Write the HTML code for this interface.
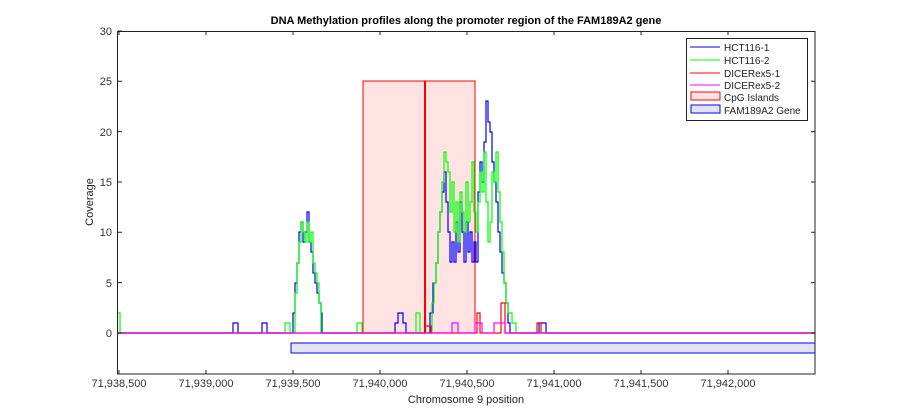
<!DOCTYPE html>
<html><head><meta charset="utf-8"><style>
body{margin:0;background:#fff;}
svg{display:block;font-family:"Liberation Sans",sans-serif;}
</style></head><body>
<svg width="900" height="420" xmlns="http://www.w3.org/2000/svg">
<rect width="900" height="420" fill="#fff"/>
<text x="466" y="24" font-size="11" font-weight="bold" text-anchor="middle">DNA Methylation profiles along the promoter region of the FAM189A2 gene</text>
<rect x="363" y="81" width="112" height="252" fill="#ffe3e3" stroke="#f00" stroke-width="1"/>
<g fill="none" stroke-width="1.2">
<path stroke="#00f" d="M118 333 H233 V323 H238 V333 H262 V323 H267 V333 H293 V313 H295 V283 H297 V263 H299 V232 H301 V222 H303 V242 H305 V232 H307 V212 H309 V242 H311 V252 H313 V273 H315 V283 H317 V293 H319 V303 H321 V313 H322 V333 H395 V323 H398 V313 H403 V323 H406 V333 H430 V313 H433 V283 H436 V263 H438 V232 H440 V212 H442 V192 H444 V172 H446 V202 H448 V232 H450 V262 H452 V242 H454 V262 H456 V222 H458 V252 H460 V202 H462 V232 H464 V262 H466 V222 H468 V252 H470 V232 H472 V262 H474 V242 H476 V262 H478 V192 H480 V162 H482 V182 H484 V142 H486 V101 H488 V122 H490 V132 H492 V162 H494 V182 H496 V202 H498 V232 H500 V252 H502 V273 H504 V283 H506 V303 H508 V323 H510 V333 H539 V323 H546 V333 H815"/>
<path stroke="#0f0" d="M118 313 H120 V333 H285 V323 H290 V333 H295 V293 H297 V263 H299 V242 H301 V222 H303 V232 H305 V242 H307 V222 H309 V242 H311 V232 H313 V263 H315 V273 H317 V283 H319 V303 H321 V333 H357 V323 H362 V333 H416 V313 H420 V333 H432 V303 H434 V283 H436 V263 H438 V232 H440 V212 H442 V182 H444 V152 H446 V162 H448 V172 H450 V212 H452 V182 H454 V232 H456 V202 H458 V242 H460 V192 H462 V212 H464 V232 H466 V182 H468 V222 H470 V202 H472 V162 H474 V212 H476 V232 H478 V202 H480 V172 H482 V192 H484 V152 H486 V202 H488 V242 H490 V222 H492 V172 H494 V182 H496 V152 H498 V192 H500 V222 H502 V252 H504 V283 H506 V303 H508 V313 H512 V323 H516 V333 H815"/>
<path stroke="#f00" d="M118 333 H425 V326 H431 V333 H477 V313 H480 V333 H501 V303 H505 V333 H537 V323 H541 V333 H815"/>
<path stroke="#f0f" d="M118 333 H452 V323 H458 V333 H475 V323 H482 V333 H494 V323 H505 V333 H815"/>
</g>
<line x1="425" y1="81" x2="425" y2="333" stroke="#f00" stroke-width="2"/>
<rect x="291" y="343" width="524" height="10" fill="#e3e3f8" stroke="#00f" stroke-width="1"/>
<rect x="117.5" y="31.5" width="697.5" height="342.5" fill="none" stroke="#222" stroke-width="1"/>
<g stroke="#222" stroke-width="1">
<path d="M118 333H122M118 282.6H122M118 232.3H122M118 182H122M118 131.6H122M118 81.3H122M118 31H122M815 333H811M815 282.6H811M815 232.3H811M815 182H811M815 131.6H811M815 81.3H811"/>
<path d="M119 374V370M206 374V370M293 374V370M380 374V370M467 374V370M554 374V370M641 374V370M728 374V370M119 31V35M206 31V35M293 31V35M380 31V35M467 31V35M554 31V35M641 31V35M728 31V35"/>
</g>
<g font-size="11" fill="#333" text-anchor="end">
<text x="112" y="337">0</text><text x="112" y="287">5</text><text x="112" y="236">10</text><text x="112" y="186">15</text><text x="112" y="136">20</text><text x="112" y="85">25</text><text x="112" y="35">30</text>
</g>
<g font-size="11" fill="#333" text-anchor="middle">
<text x="119" y="387">71,938,500</text><text x="206" y="387">71,939,000</text><text x="293" y="387">71,939,500</text><text x="380" y="387">71,940,000</text><text x="467" y="387">71,940,500</text><text x="554" y="387">71,941,000</text><text x="641" y="387">71,941,500</text><text x="728" y="387">71,942,000</text>
</g>
<text x="466" y="403" font-size="11" text-anchor="middle" fill="#222">Chromosome 9 position</text>
<text transform="translate(93,202) rotate(-90)" font-size="11" text-anchor="middle" fill="#222">Coverage</text>
<g>
<rect x="686.5" y="38.5" width="121" height="82" fill="#fff" stroke="#222"/>
<line x1="690" y1="47" x2="720" y2="47" stroke="#00f"/>
<line x1="690" y1="60" x2="720" y2="60" stroke="#0f0"/>
<line x1="690" y1="73" x2="720" y2="73" stroke="#f00"/>
<line x1="690" y1="85" x2="720" y2="85" stroke="#f0f"/>
<rect x="691" y="92" width="29" height="8" fill="#ffe3e3" stroke="#f00"/>
<rect x="691" y="105" width="29" height="8" fill="#e3e3f8" stroke="#00f"/>
<g font-size="10" fill="#222">
<text x="724" y="51">HCT116-1</text>
<text x="724" y="64">HCT116-2</text>
<text x="724" y="77">DICERex5-1</text>
<text x="724" y="89">DICERex5-2</text>
<text x="724" y="101">CpG Islands</text>
<text x="724" y="114">FAM189A2 Gene</text>
</g></g>
</svg>
</body></html>
